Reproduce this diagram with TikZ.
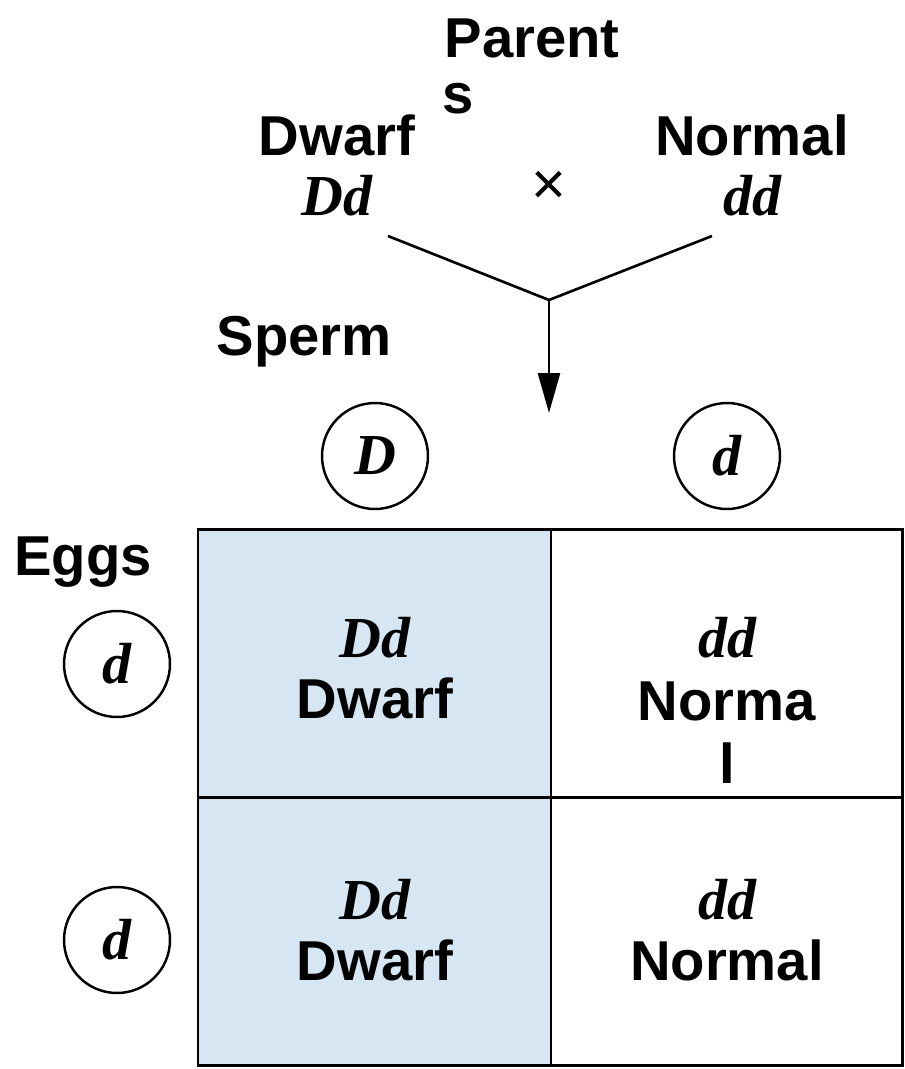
\documentclass[tikz,border=0pt]{standalone}
\usepackage{fontspec}
\setmainfont{Liberation Serif}
\setsansfont{Liberation Sans}
\usetikzlibrary{arrows.meta}
\definecolor{cellblue}{RGB}{214,231,243}

\begin{document}
\begin{tikzpicture}[x=0.02cm,y=-0.02cm,
    lbl/.style={font=\sffamily\bfseries\fontsize{32}{36}\selectfont, anchor=base, inner sep=0pt},
    geno/.style={font=\rmfamily\bfseries\itshape\fontsize{33}{36}\selectfont, anchor=base, inner sep=0pt},
    gamete/.style={draw, circle, line width=1.4pt, minimum size=2.12cm, inner sep=0pt,
      font=\rmfamily\bfseries\itshape\fontsize{33}{36}\selectfont}]
  \useasboundingbox (0,0) rectangle (904,1069);

  % parents
  \node[lbl] (parentA) at (532,57) {Parent};
  \node[lbl] (parentB) at (458,113) {s};
  \node[lbl] (dwarfP) at (337,155) {Dwarf};
  \node[geno] (dwarfG) at (337,215) {Dd};
  \node[lbl] (normalP) at (752,155) {Normal};
  \node[geno] (normalG) at (752,215) {dd};
  \node[font=\sffamily\fontsize{34}{36}\selectfont, inner sep=0pt] (cross) at (549,188) {×};

  \coordinate (lft) at (388,236);
  \coordinate (rgt) at (712,236);
  \coordinate (join) at (549,300);
  \coordinate (down) at (549,413);
  \draw[line width=1.5pt] (lft) -- (join) -- (rgt);
  \draw[line width=1.5pt, -{Triangle[length=8mm, width=4.4mm]}] (join) -- (down);

  % gametes
  \node[lbl] (sperm) at (304,355) {Sperm};
  \node[lbl] (eggs) at (83,575) {Eggs};
  \node[gamete] (s1) at (375,456) {D};
  \node[gamete] (s2) at (727,456) {d};
  \node[gamete] (e1) at (117,664) {d};
  \node[gamete] (e2) at (117,940) {d};

  % punnett square
  \fill[cellblue] (198,529) rectangle (551,1065);
  \draw[line width=1.7pt] (198,529) rectangle (902,1065);
  \draw[line width=1.7pt] (551,529) -- (551,1065);
  \draw[line width=1.7pt] (198,797) -- (902,797);

  \node[geno] (c11g) at (375,657) {Dd};
  \node[lbl] (c11p) at (375,718) {Dwarf};
  \node[geno] (c12g) at (727,657) {dd};
  \node[lbl] (c12p) at (727,720) {Norma};
  \node[lbl] (c12q) at (727,783) {l};
  \node[geno] (c21g) at (375,919) {Dd};
  \node[lbl] (c21p) at (375,980) {Dwarf};
  \node[geno] (c22g) at (727,919) {dd};
  \node[lbl] (c22p) at (727,980) {Normal};
\end{tikzpicture}
\end{document}
